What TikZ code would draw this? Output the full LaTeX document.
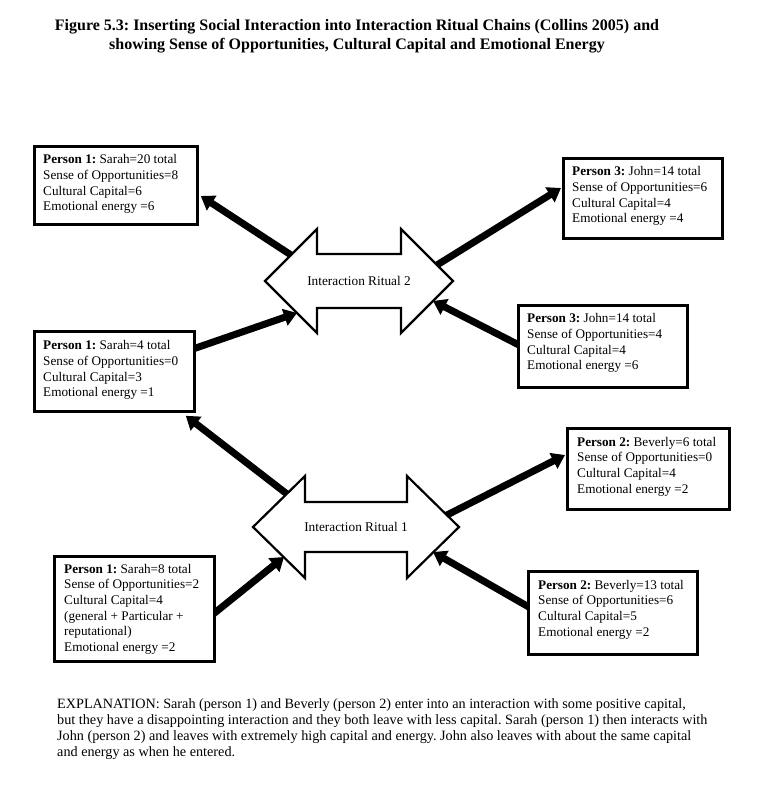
\documentclass[tikz,border=0pt]{standalone}
\usepackage{fontspec}
\setmainfont{Liberation Serif}
\usetikzlibrary{arrows.meta,calc,backgrounds}
\frenchspacing
\begin{document}
\begin{tikzpicture}[x=1pt,y=-1pt,
  pbox/.style={draw, line width=2.8pt, fill=white, anchor=north west, inner sep=0pt},
  ptext/.style={anchor=north west, inner sep=0pt, align=left, font=\fontsize{13.2}{15.6}\selectfont},
  irshape/.style={draw, line width=2.2pt, fill=white, line join=miter},
  irtext/.style={inner sep=0pt, font=\fontsize{13.3}{15}\selectfont},
  conn/.style={line width=7pt, -{Triangle[length=13pt,width=17pt]}}]
\useasboundingbox (0,0) rectangle (757,790);

% title
\node[align=center, font=\bfseries\fontsize{16}{19}\selectfont] (title) at (357,36.5)
  {Figure 5.3: Inserting Social Interaction into Interaction Ritual Chains (Collins 2005) and\\
   showing Sense of Opportunities, Cultural Capital and Emotional Energy};

% person boxes
\node[pbox, minimum width=163pt, minimum height=78pt] (A) at (33,145) {};
\node[ptext] (At) at ($(A.north west)+(10,9.5)$) {\textbf{Person 1:} Sarah=20 total\\Sense of Opportunities=8\\Cultural Capital=6\\Emotional energy =6};

\node[pbox, minimum width=159pt, minimum height=80pt] (B) at (562,157) {};
\node[ptext] (Bt) at ($(B.north west)+(10,9.5)$) {\textbf{Person 3:} John=14 total\\Sense of Opportunities=6\\Cultural Capital=4\\Emotional energy =4};

\node[pbox, minimum width=160pt, minimum height=80pt] (C) at (33,330) {};
\node[ptext] (Ct) at ($(C.north west)+(10,10.5)$) {\textbf{Person 1:} Sarah=4 total\\Sense of Opportunities=0\\Cultural Capital=3\\Emotional energy =1};

\node[pbox, minimum width=169pt, minimum height=82pt] (D) at (517,304) {};
\node[ptext] (Dt) at ($(D.north west)+(10,9.5)$) {\textbf{Person 3:} John=14 total\\Sense of Opportunities=4\\Cultural Capital=4\\Emotional energy =6};

\node[pbox, minimum width=162pt, minimum height=81pt] (E) at (566,427) {};
\node[ptext] (Et) at ($(E.north west)+(11,10)$) {\textbf{Person 2:} Beverly=6 total\\Sense of Opportunities=0\\Cultural Capital=4\\Emotional energy =2};

\node[pbox, minimum width=160pt, minimum height=105pt] (F) at (53,555) {};
\node[ptext] (Ft) at ($(F.north west)+(11,9)$) {\textbf{Person 1:} Sarah=8 total\\Sense of Opportunities=2\\Cultural Capital=4\\(general + Particular +\\reputational)\\Emotional energy =2};

\node[pbox, minimum width=169pt, minimum height=83pt] (G) at (527,570) {};
\node[ptext] (Gt) at ($(G.north west)+(11,10)$) {\textbf{Person 2:} Beverly=13 total\\Sense of Opportunities=6\\Cultural Capital=5\\Emotional energy =2};

% interaction ritual 2
\coordinate (ir2c) at (359,281);
\draw[irshape] ($(ir2c)+(-94,0)$) -- ($(ir2c)+(-42,-52)$) -- ($(ir2c)+(-42,-27)$) -- ($(ir2c)+(42,-27)$)
  -- ($(ir2c)+(42,-52)$) -- ($(ir2c)+(94,0)$) -- ($(ir2c)+(42,52)$) -- ($(ir2c)+(42,27)$)
  -- ($(ir2c)+(-42,27)$) -- ($(ir2c)+(-42,52)$) -- cycle;
\node[irtext] (IR2) at (ir2c) {Interaction Ritual 2};
\coordinate (ir2ul) at ($(ir2c)+(-68,-26)$);
\coordinate (ir2ur) at ($(ir2c)+(78,-16)$);
\coordinate (ir2ll) at ($(ir2c)+(-62,32)$);
\coordinate (ir2lr) at ($(ir2c)+(74,20)$);

% interaction ritual 1
\coordinate (ir1c) at (356,527);
\draw[irshape] ($(ir1c)+(-103,0)$) -- ($(ir1c)+(-51,-51)$) -- ($(ir1c)+(-51,-25)$) -- ($(ir1c)+(51,-25)$)
  -- ($(ir1c)+(51,-51)$) -- ($(ir1c)+(103,0)$) -- ($(ir1c)+(51,51)$) -- ($(ir1c)+(51,25)$)
  -- ($(ir1c)+(-51,25)$) -- ($(ir1c)+(-51,51)$) -- cycle;
\node[irtext] (IR1) at (ir1c) {Interaction Ritual 1};
\coordinate (ir1ul) at ($(ir1c)+(-69,-33)$);
\coordinate (ir1ur) at ($(ir1c)+(91,-12)$);
\coordinate (ir1ll) at ($(ir1c)+(-72,30)$);
\coordinate (ir1lr) at ($(ir1c)+(77,25)$);

% box attachment points
\coordinate (Ain) at ($(A.north east)+(2,51)$);
\coordinate (Bin) at ($(B.north west)+(-1,31)$);
\coordinate (Cout) at ($(C.north east)+(0,18)$);
\coordinate (Cin) at ($(C.south east)+(-10,3)$);
\coordinate (Dout) at ($(D.north west)+(0,40)$);
\coordinate (Ein) at ($(E.north west)+(-1,28)$);
\coordinate (Fout) at ($(F.north east)+(0,57)$);
\coordinate (Gout) at ($(G.north west)+(0,36)$);

\begin{pgfonlayer}{background}
\draw[conn] ($(ir2ul)!-6pt!(Ain)$) -- (Ain);
\draw[conn] ($(ir2ur)!-6pt!(Bin)$) -- (Bin);
\draw[conn] ($(Cout)!-6pt!(ir2ll)$) -- (ir2ll);
\draw[conn] ($(Dout)!-6pt!(ir2lr)$) -- (ir2lr);
\draw[conn] ($(ir1ul)!-6pt!(Cin)$) -- (Cin);
\draw[conn] ($(ir1ur)!-6pt!(Ein)$) -- (Ein);
\draw[conn] ($(Fout)!-6pt!(ir1ll)$) -- (ir1ll);
\draw[conn] ($(Gout)!-6pt!(ir1lr)$) -- (ir1lr);
\end{pgfonlayer}

% explanation
\node[anchor=north west, inner sep=0pt, align=left, font=\fontsize{14.2}{16.3}\selectfont] (expl) at (57,698)
  {EXPLANATION: Sarah (person 1) and Beverly (person 2) enter into an interaction with some positive capital,\\
   but they have a disappointing interaction and they both leave with less capital. Sarah (person 1) then interacts with\\
   John (person 2) and leaves with extremely high capital and energy. John also leaves with about the same capital\\
   and energy as when he entered.};
\end{tikzpicture}
\end{document}
